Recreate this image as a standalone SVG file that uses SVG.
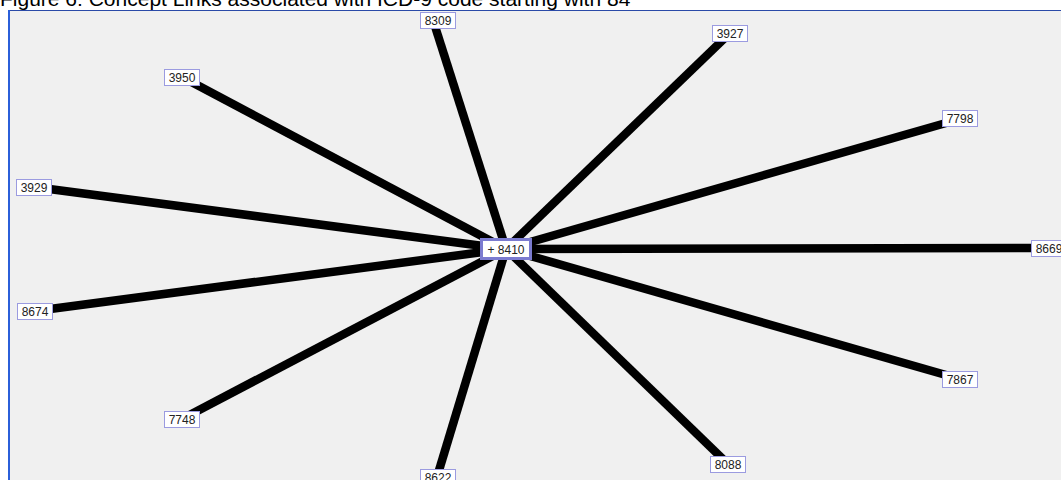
<svg xmlns="http://www.w3.org/2000/svg" width="1061" height="480" viewBox="0 0 1061 480">
<style>
.edge{stroke:#000;stroke-width:8.5;stroke-linecap:butt}
.box{fill:#fff;stroke:#9b9be0;stroke-width:1}
.hub{fill:#fff;stroke:#7b7bd0;stroke-width:3}
.lbl{font-family:"Liberation Sans",Arial,sans-serif;font-size:12px;fill:#222;text-anchor:middle;dominant-baseline:central}
.title{font-family:"Liberation Sans",Arial,sans-serif;font-size:21px;fill:#000}
</style>
<rect width="1061" height="480" fill="#fff"/>
<text class="title" x="0" y="6">Figure 6: Concept Links associated with ICD-9 code starting with 84</text>
<rect x="9" y="10" width="1052" height="470" fill="#f0f0f0"/>
<line x1="9" y1="10.5" x2="1061" y2="10.5" stroke="#2a4aa8" stroke-width="1"/>
<line x1="9" y1="10" x2="9" y2="480" stroke="#2b5fd9" stroke-width="2"/>
<g id="connectors">
<line class="edge" x1="506" y1="249" x2="433" y2="20"/>
<line class="edge" x1="506" y1="249" x2="730" y2="33"/>
<line class="edge" x1="506" y1="249" x2="182" y2="77"/>
<line class="edge" x1="506" y1="249" x2="34" y2="187"/>
<line class="edge" x1="506" y1="249" x2="1047" y2="248"/>
<line class="edge" x1="506" y1="249" x2="960" y2="119"/>
<line class="edge" x1="506" y1="249" x2="960" y2="379"/>
<line class="edge" x1="506" y1="249" x2="437" y2="477"/>
<line class="edge" x1="506" y1="249" x2="35" y2="311"/>
<line class="edge" x1="506" y1="249" x2="182" y2="419"/>
<line class="edge" x1="506" y1="249" x2="728" y2="464"/>
</g>
<g id="n8309"><rect class="box" x="420.5" y="12.5" width="35" height="16"/><text class="lbl" x="438" y="21">8309</text></g>
<g id="n3927"><rect class="box" x="712.5" y="25.5" width="35" height="16"/><text class="lbl" x="730" y="34">3927</text></g>
<g id="n3950"><rect class="box" x="164.5" y="69.5" width="35" height="16"/><text class="lbl" x="182" y="78">3950</text></g>
<g id="n3929"><rect class="box" x="16.5" y="179.5" width="35" height="16"/><text class="lbl" x="34" y="188">3929</text></g>
<g id="n7798"><rect class="box" x="942.5" y="110.5" width="35" height="16"/><text class="lbl" x="960" y="119">7798</text></g>
<g id="n8669"><rect class="box" x="1031.5" y="240.5" width="35" height="16"/><text class="lbl" x="1049" y="249">8669</text></g>
<g id="n7867"><rect class="box" x="942.5" y="371.5" width="35" height="16"/><text class="lbl" x="960" y="380">7867</text></g>
<g id="n8088"><rect class="box" x="710.5" y="456.5" width="35" height="16"/><text class="lbl" x="728" y="465">8088</text></g>
<g id="n8622"><rect class="box" x="420.5" y="469.5" width="35" height="16"/><text class="lbl" x="438" y="478">8622</text></g>
<g id="n7748"><rect class="box" x="164.5" y="411.5" width="35" height="16"/><text class="lbl" x="182" y="420">7748</text></g>
<g id="n8674"><rect class="box" x="17.5" y="303.5" width="35" height="16"/><text class="lbl" x="35" y="312">8674</text></g>
<g id="n8410"><rect class="hub" x="481.5" y="239.5" width="49" height="19"/><text class="lbl" x="506" y="249.5">+ 8410</text></g>
</svg>
